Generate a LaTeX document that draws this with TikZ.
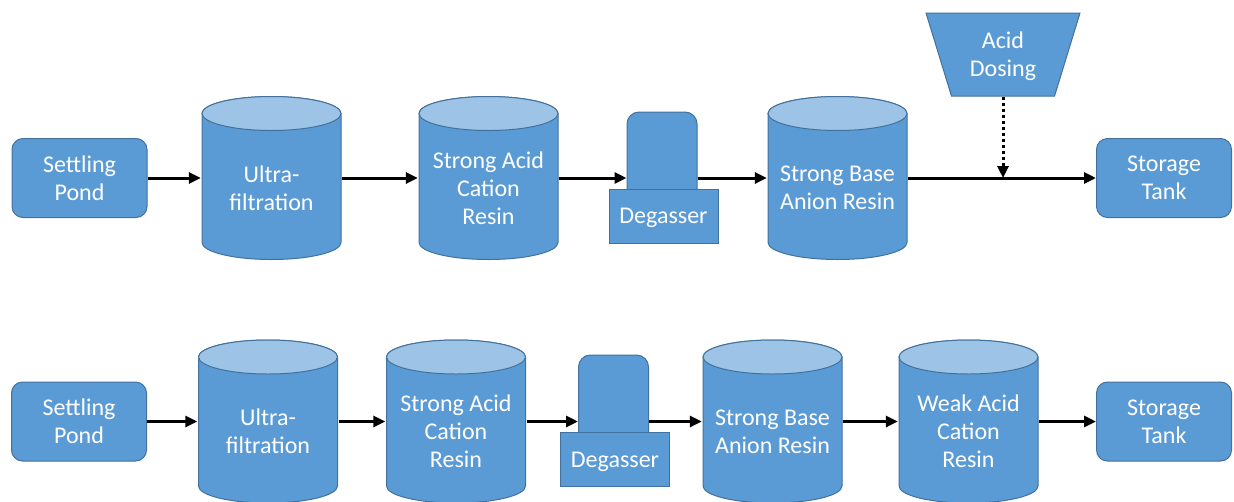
\documentclass[tikz,border=0pt]{standalone}
\usepackage{fontspec}
\setmainfont{Carlito}
\usetikzlibrary{shapes.geometric,arrows.meta,calc}
\definecolor{unitblue}{HTML}{5B9BD5}
\definecolor{unitedge}{HTML}{41719C}
\definecolor{unittop}{HTML}{9DC3E6}

\begin{document}
\begin{tikzpicture}[x=1pt,y=-1pt,>={Triangle[length=12pt,width=11pt]},
    every node/.style={font=\fontsize{24}{28}\selectfont,text=white,align=center},
    box/.style={rectangle,rounded corners=11pt,draw=unitedge,fill=unitblue,line width=1pt,minimum width=135pt,minimum height=79pt},
    tank/.style={rectangle,minimum width=141pt,minimum height=165pt,
        path picture={
            \path[fill=unitblue,draw=unitedge,line width=1pt]
                ([xshift=-69.5pt,yshift=-18pt]path picture bounding box.north)
                -- ([xshift=-69.5pt,yshift=18pt]path picture bounding box.south)
                arc[start angle=180,end angle=360,x radius=69.5pt,y radius=17pt]
                -- ([xshift=69.5pt,yshift=-18pt]path picture bounding box.north)
                arc[start angle=0,end angle=180,x radius=69.5pt,y radius=17pt] -- cycle;
            \path[fill=unittop,draw=unitedge,line width=1pt]
                ([yshift=-18pt]path picture bounding box.north) ellipse[x radius=69.5pt,y radius=17pt];
        },
        label={[yshift=-10pt,align=center,text=white]center:#1}},
    hood/.style={rectangle,rounded corners=12pt,draw=unitedge,fill=unitblue,line width=1pt,minimum width=70pt,minimum height=90pt},
    base/.style={rectangle,draw=unitedge,fill=unitblue,line width=1pt,minimum width=109pt,minimum height=54pt,text depth=0pt},
    hopper/.style={trapezium,shape border rotate=180,trapezium angle=70.7,trapezium stretches=true,draw=unitedge,fill=unitblue,line width=1pt,minimum width=154pt,minimum height=83pt,text depth=0pt},
    flow/.style={->,line width=3pt},
    dose/.style={->,line width=3pt,dash pattern=on 3pt off 3pt}]

    \useasboundingbox (0,0) rectangle (1234,501);

    % top line
    \node[box] (sp1) at (79.5,178) {Settling\\Pond};
    \node[tank={Ultra-\\filtration}] (uf1) at ($(sp1)+(192,0)$) {};
    \node[tank={Strong Acid\\Cation\\Resin}] (sac1) at ($(uf1)+(217,0)$) {};
    \node[hood] (dg1top) at (662,157) {};
    \node[base] (dg1) at (663.5,216) {Degasser};
    \node[tank={Strong Base\\Anion Resin}] (sba1) at ($(sac1)+(349,0)$) {};
    \node[box] (st1) at (1164,178) {Storage\\Tank};
    \node[hopper] (acid) at (1003,54.5) {Acid\\Dosing};

    \coordinate (mix) at (acid.south |- st1);

    \path[flow]
        (sp1) edge (uf1)
        (uf1) edge (sac1)
        (sac1) edge (sac1 -| dg1top.west)
        (dg1top.east |- sba1) edge (sba1)
        (sba1) edge (st1)
    ;
    \draw[dose] (acid.south) -- (mix);

    % bottom line
    \node[box] (sp2) at (79,421.5) {Settling\\Pond};
    \node[tank={Ultra-\\filtration}] (uf2) at ($(sp2)+(189,0)$) {};
    \node[tank={Strong Acid\\Cation\\Resin}] (sac2) at ($(uf2)+(188,0)$) {};
    \node[hood] (dg2top) at (613.5,400) {};
    \node[base] (dg2) at (615,459.5) {Degasser};
    \node[tank={Strong Base\\Anion Resin}] (sba2) at ($(sac2)+(316.5,0)$) {};
    \node[tank={Weak Acid\\Cation\\Resin}] (wac2) at ($(sba2)+(196,0)$) {};
    \node[box] (st2) at (1164,421.5) {Storage\\Tank};

    \path[flow]
        (sp2) edge (uf2)
        (uf2) edge (sac2)
        (sac2) edge (sac2 -| dg2top.west)
        (dg2top.east |- sba2) edge (sba2)
        (sba2) edge (wac2)
        (wac2) edge (st2)
    ;
\end{tikzpicture}
\end{document}
